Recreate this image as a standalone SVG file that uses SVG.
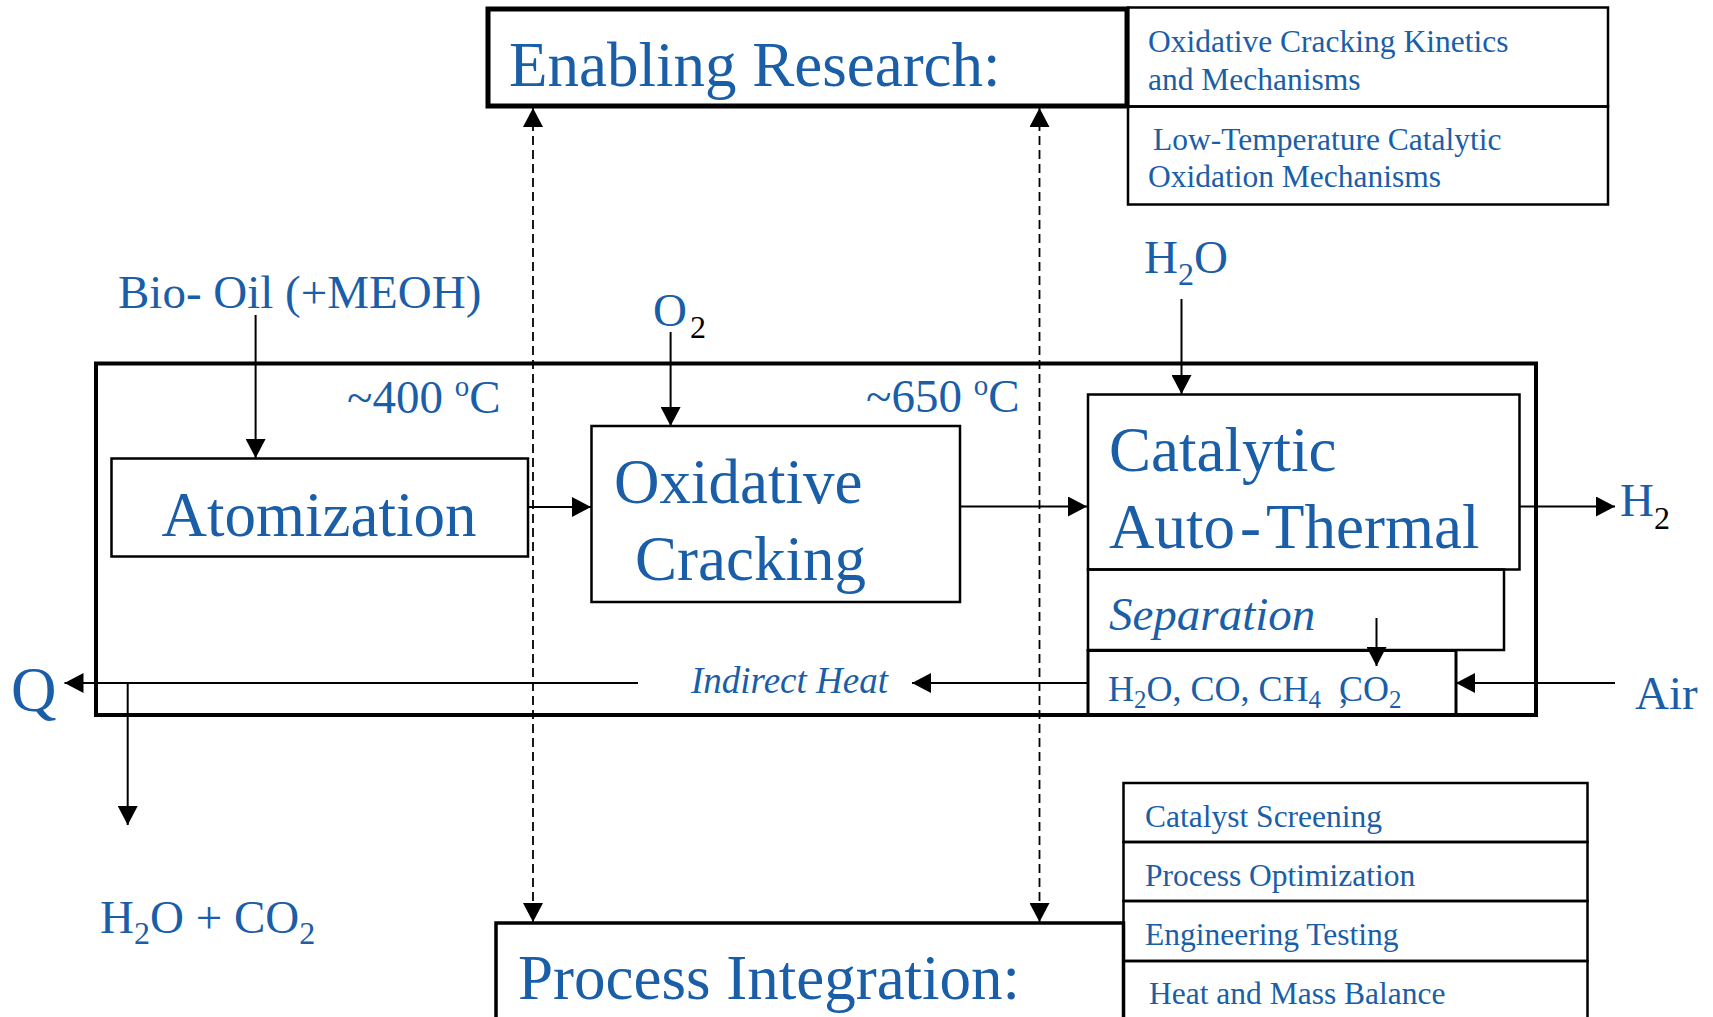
<svg xmlns="http://www.w3.org/2000/svg" width="1713" height="1017" viewBox="0 0 1713 1017">
<style>
text{font-family:"Liberation Serif","Times New Roman",serif;fill:#1a5ea8}
.big{font-size:63px}
.mid{font-size:47px}
.sm{font-size:31.5px}
.it{font-style:italic}
.box{fill:none;stroke:#000;stroke-width:2.5}
.ln{fill:none;stroke:#000;stroke-width:2}
.dash{fill:none;stroke:#000;stroke-width:1.8;stroke-dasharray:9 5}
.blk{fill:#000}
</style>
<defs>
<marker id="ah" markerUnits="userSpaceOnUse" markerWidth="20" markerHeight="20" refX="19" refY="10" orient="auto-start-reverse" viewBox="0 0 20 20">
<path d="M0,0 L19,10 L0,20 z" fill="#000"/>
</marker>
</defs>
<rect width="1713" height="1017" fill="#fff"/>

<g id="connectors">
<line class="dash" x1="533" y1="108" x2="533" y2="922" marker-start="url(#ah)" marker-end="url(#ah)"/>
<line class="dash" x1="1039.5" y1="108" x2="1039.5" y2="922" marker-start="url(#ah)" marker-end="url(#ah)"/>
<line class="ln" x1="255.6" y1="315" x2="255.6" y2="458" marker-end="url(#ah)"/>
<line class="ln" x1="670.6" y1="332" x2="670.6" y2="426" marker-end="url(#ah)"/>
<line class="ln" x1="1181.5" y1="299" x2="1181.5" y2="394" marker-end="url(#ah)"/>
<line class="ln" x1="528" y1="507" x2="591" y2="507" marker-end="url(#ah)"/>
<line class="ln" x1="960" y1="506.5" x2="1087" y2="506.5" marker-end="url(#ah)"/>
<line class="ln" x1="1519.5" y1="506.5" x2="1615" y2="506.5" marker-end="url(#ah)"/>
<line class="ln" x1="1376.5" y1="618" x2="1376.5" y2="666" marker-end="url(#ah)"/>
<line class="ln" x1="1615" y1="683" x2="1456" y2="683" marker-end="url(#ah)"/>
<line class="ln" x1="1088" y1="683" x2="912" y2="683" marker-end="url(#ah)"/>
<line class="ln" x1="638" y1="683" x2="64.5" y2="683" marker-end="url(#ah)"/>
<line class="ln" x1="127.7" y1="683" x2="127.7" y2="825" marker-end="url(#ah)"/>
</g>

<g id="main-box">
<rect x="96" y="363.5" width="1440" height="351.5" fill="none" stroke="#000" stroke-width="4"/>
</g>

<g id="enabling-research">
<rect x="488" y="9" width="639" height="97" fill="none" stroke="#000" stroke-width="5"/>
<text class="big" x="509" y="86">Enabling Research:</text>
</g>

<g id="research-items">
<rect class="box" x="1128" y="7.5" width="480" height="99"/>
<rect class="box" x="1128" y="106.5" width="480" height="98"/>
<text class="sm" x="1148" y="52">Oxidative Cracking Kinetics</text>
<text class="sm" x="1148" y="90">and Mechanisms</text>
<text class="sm" x="1153" y="150">Low-Temperature Catalytic</text>
<text class="sm" x="1148" y="187">Oxidation Mechanisms</text>
</g>

<g id="bio-oil">
<text class="mid" x="118" y="308">Bio- Oil (+MEOH)</text>
</g>

<g id="o2">
<text class="mid" x="653" y="326">O<tspan class="blk" font-size="32" dy="12" dx="3">2</tspan></text>
</g>

<g id="h2o-in">
<text class="mid" x="1144" y="273">H<tspan font-size="32" dy="12">2</tspan><tspan dy="-12">O</tspan></text>
</g>

<g id="temp400">
<text class="mid" x="347" y="413">~400 <tspan font-size="29" dy="-17">o</tspan><tspan dy="17">C</tspan></text>
</g>

<g id="temp650">
<text class="mid" x="866" y="412">~650 <tspan font-size="29" dy="-17">o</tspan><tspan dy="17">C</tspan></text>
</g>

<g id="atomization">
<rect class="box" x="111.5" y="458.5" width="416.5" height="98"/>
<text class="big" x="161.5" y="536">Atomization</text>
</g>

<g id="oxidative-cracking">
<rect class="box" x="591.5" y="426" width="368.5" height="176"/>
<text class="big" x="614" y="503">Oxidative</text>
<text class="big" x="635" y="580">Cracking</text>
</g>

<g id="catalytic">
<rect class="box" x="1088" y="394.5" width="431.5" height="175"/>
<text class="big" x="1109" y="471">Catalytic</text>
<text class="big" x="1109" y="548">Auto<tspan dx="5">-</tspan><tspan dx="5">Thermal</tspan></text>
</g>

<g id="separation">
<rect class="box" x="1088" y="569.5" width="416" height="80.5"/>
<text class="mid it" x="1109" y="630">Separation</text>
</g>

<g id="products">
<rect x="1088" y="650.5" width="368" height="64.5" fill="none" stroke="#000" stroke-width="3"/>
<text font-size="36" x="1108" y="701">H<tspan font-size="25" dy="7">2</tspan><tspan dy="-7">O, CO, CH</tspan><tspan font-size="25" dy="7">4</tspan><tspan dy="-5" dx="18">,</tspan><tspan dy="-2" dx="-9">CO</tspan><tspan font-size="25" dy="7">2</tspan></text>
</g>

<g id="h2-out">
<text class="mid" x="1620" y="516">H<tspan class="blk" font-size="32" dy="13">2</tspan></text>
</g>

<g id="air">
<text class="mid" x="1635" y="709">Air</text>
</g>

<g id="indirect-heat">
<text class="it" font-size="37" x="691" y="693">Indirect Heat</text>
</g>

<g id="q">
<text font-size="63" x="11" y="711">Q</text>
</g>

<g id="h2o-co2">
<text class="mid" x="100" y="933">H<tspan font-size="32" dy="11">2</tspan><tspan dy="-11">O + CO</tspan><tspan font-size="32" dy="11">2</tspan></text>
</g>

<g id="process-integration">
<rect x="496" y="923" width="627.5" height="110" fill="none" stroke="#000" stroke-width="3.5"/>
<text class="big" x="518" y="999">Process Integration:</text>
</g>

<g id="integration-items">
<rect class="box" x="1123.5" y="783" width="464" height="59"/>
<rect class="box" x="1123.5" y="842" width="464" height="59"/>
<rect class="box" x="1123.5" y="901" width="464" height="60"/>
<rect class="box" x="1123.5" y="961" width="464" height="70"/>
<text class="sm" x="1145" y="827">Catalyst Screening</text>
<text class="sm" x="1145" y="886">Process Optimization</text>
<text class="sm" x="1145" y="945">Engineering Testing</text>
<text class="sm" x="1149" y="1004">Heat and Mass Balance</text>
</g>
</svg>
